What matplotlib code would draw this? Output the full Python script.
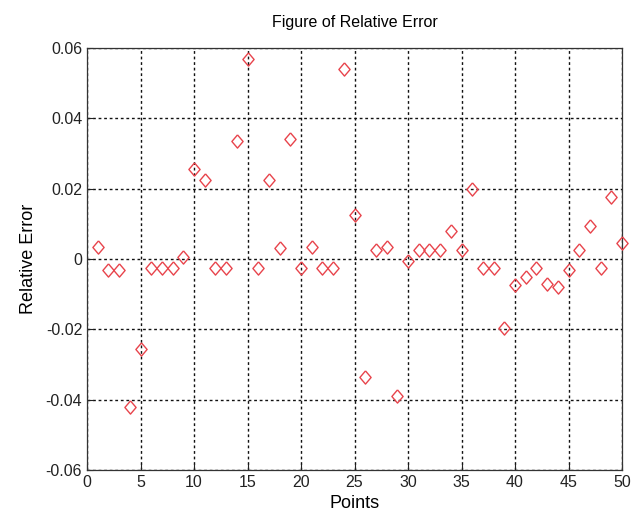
import numpy as np
import matplotlib
matplotlib.use('Agg')
import matplotlib.pyplot as plt

plt.rcParams['font.family'] = ['Liberation Sans', 'DejaVu Sans']

# point index and relative error
points = np.arange(1, 51)
rel_error = [0.0035, -0.003, -0.003, -0.042, -0.0255, -0.0025, -0.0025, -0.0025, 0.0005, 0.0255,
             0.0225, -0.0025, -0.0025, 0.0335, 0.057, -0.0025, 0.0225, 0.003, 0.034, -0.0025,
             0.0035, -0.0025, -0.0025, 0.054, 0.0125, -0.0335, 0.0025, 0.0035, -0.039, -0.0005,
             0.0025, 0.0025, 0.0025, 0.008, 0.0025, 0.020, -0.0025, -0.0025, -0.0195, -0.0075,
             -0.005, -0.0025, -0.007, -0.008, -0.003, 0.0025, 0.0095, -0.0025, 0.0175, 0.0045]

xticks = np.arange(0, 51, 5)
yticks = np.arange(-0.06, 0.061, 0.02)

# matlab-ish diamond, a bit taller than wide
diamond = [(0, 1), (0.85, 0), (0, -1), (-0.85, 0), (0, 1)]

fig = plt.figure(figsize=(6.38, 5.26), dpi=100)
ax = fig.add_axes([87 / 638, 1 - 470 / 526, 535 / 638, 422 / 526])

ax.plot(points, rel_error, linestyle='none', marker=diamond, markersize=9.5,
        markerfacecolor='none', markeredgecolor='#e8444c', markeredgewidth=1.0,
        clip_on=False, zorder=3)

ax.set_xlim(0, 50)
ax.set_ylim(-0.06, 0.06)
ax.set_xticks(xticks)
ax.set_yticks(yticks)
ax.set_yticklabels(['-0.06', '-0.04', '-0.02', '0', '0.02', '0.04', '0.06'])
ax.tick_params(direction='in', labelsize=11.5, length=4, colors='#222222')
ax.grid(True, color='#111111', linestyle=(0, (2.0, 2.0)), linewidth=1.0)
for s in ax.spines.values():
    s.set_linewidth(0.9)
    s.set_color('#333333')

ax.set_title('Figure of Relative Error', fontsize=11.5, pad=15)
ax.set_xlabel('Points', fontsize=13, labelpad=4)
ax.set_ylabel('Relative Error', fontsize=13, labelpad=6)

fig.savefig('out.png', dpi=100)
